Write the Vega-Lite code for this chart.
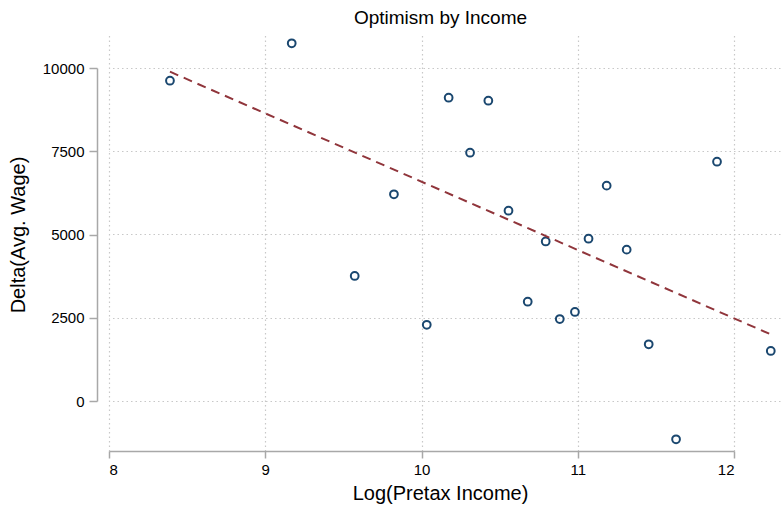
{
  "$schema": "https://vega.github.io/schema/vega-lite/v6.json",
  "autosize": "none",
  "width": 671,
  "height": 418,
  "padding": {"left": 109, "top": 33, "right": 2, "bottom": 56},
  "background": "white",
  "config": {
    "view": {"stroke": null},
    "font": "Liberation Sans"
  },
  "title": {
    "text": "Optimism by Income",
    "fontSize": 19,
    "fontWeight": "normal",
    "font": "Liberation Sans",
    "color": "black",
    "anchor": "middle",
    "dx": -4,
    "offset": 5
  },
  "datasets": {
    "pts": [
      {"logincome": 8.390, "delta": 9619},
      {"logincome": 9.169, "delta": 10742},
      {"logincome": 9.823, "delta": 6207},
      {"logincome": 10.173, "delta": 9108},
      {"logincome": 10.427, "delta": 9018},
      {"logincome": 10.310, "delta": 7456},
      {"logincome": 10.556, "delta": 5715},
      {"logincome": 11.184, "delta": 6466},
      {"logincome": 11.890, "delta": 7186},
      {"logincome": 11.068, "delta": 4874},
      {"logincome": 10.794, "delta": 4790},
      {"logincome": 9.572, "delta": 3754},
      {"logincome": 10.033, "delta": 2288},
      {"logincome": 11.312, "delta": 4544},
      {"logincome": 10.679, "delta": 2982},
      {"logincome": 10.884, "delta": 2462},
      {"logincome": 10.981, "delta": 2673},
      {"logincome": 11.453, "delta": 1703},
      {"logincome": 12.234, "delta": 1502},
      {"logincome": 11.628, "delta": -1150}
    ],
    "fit": [
      {"logincome": 8.390, "fitted": 9889},
      {"logincome": 12.234, "fitted": 2000}
    ]
  },
  "layer": [
    {
      "data": {"name": "pts"},
      "mark": {"type": "point", "filled": false, "stroke": "#1a476f", "strokeWidth": 2, "size": 60, "opacity": 1},
      "encoding": {
        "x": {"field": "logincome", "type": "quantitative",
          "scale": {"domain": [8, 12.293], "nice": false, "zero": false},
          "axis": {"orient": "top", "values": [8, 9, 10, 11, 12], "grid": true, "gridColor": "#c8c8c8", "gridDash": [1.5, 3], "gridWidth": 1.2, "labels": false, "ticks": false, "domain": false, "title": null}},
        "y": {"field": "delta", "type": "quantitative",
          "scale": {"domain": [-1502, 11051], "nice": false, "zero": false},
          "axis": {"orient": "right", "values": [0, 2500, 5000, 7500, 10000], "grid": true, "gridColor": "#c8c8c8", "gridDash": [1.5, 3], "gridWidth": 1.2, "labels": false, "ticks": false, "domain": false, "title": null}}
      }
    },
    {
      "data": {"name": "fit"},
      "mark": {"type": "line", "color": "#90353b", "strokeWidth": 2, "strokeDash": [9, 6]},
      "encoding": {
        "x": {"field": "logincome", "type": "quantitative",
          "scale": {"domain": [8, 12.293], "nice": false, "zero": false}, "axis": null},
        "y": {"field": "fitted", "type": "quantitative",
          "scale": {"domain": [-1502, 11051], "nice": false, "zero": false}, "axis": null}
      }
    },
    {
      "data": {"name": "pts"},
      "mark": {"type": "point", "opacity": 0},
      "encoding": {
        "x": {"field": "logincome", "type": "quantitative",
          "scale": {"domain": [8, 12], "range": [0, 625], "nice": false, "zero": false},
          "axis": {"orient": "bottom", "values": [8, 9, 10, 11, 12], "format": "d", "grid": false,
            "domainColor": "#a8a8a8", "domainWidth": 1.5, "tickColor": "#a8a8a8", "tickWidth": 1.5, "tickSize": 7,
            "labelFont": "Liberation Sans", "labelFontSize": 15, "labelColor": "black", "labelPadding": 4,
            "title": "Log(Pretax Income)", "titleFont": "Liberation Sans", "titleFontSize": 20, "titleFontWeight": "normal", "titleColor": "black", "titlePadding": 6, "titleX": 331}},
        "y": {"field": "delta", "type": "quantitative",
          "scale": {"domain": [0, 10000], "range": [368, 35], "nice": false, "zero": false},
          "axis": {"orient": "left", "values": [0, 2500, 5000, 7500, 10000], "format": "d", "grid": false, "offset": 12,
            "domainColor": "#a8a8a8", "domainWidth": 1.5, "tickColor": "#a8a8a8", "tickWidth": 1.5, "tickSize": 8,
            "labelFont": "Liberation Sans", "labelFontSize": 15, "labelColor": "black", "labelPadding": 5,
            "title": "Delta(Avg. Wage)", "titleFont": "Liberation Sans", "titleFontSize": 20, "titleFontWeight": "normal", "titleColor": "black", "titlePadding": 14}}
      }
    }
  ],
  "resolve": {"scale": {"x": "independent", "y": "independent"}, "axis": {"x": "independent", "y": "independent"}}
}
